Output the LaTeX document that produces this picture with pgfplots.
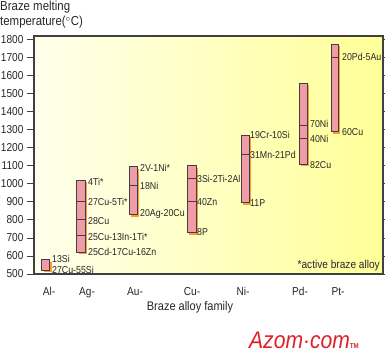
\documentclass[border=0pt]{standalone}
\usepackage{pgfplots}
\pgfplotsset{compat=1.18}
\usepackage{fontspec}
\setmainfont{Liberation Sans}[FakeStretch=0.88]
\definecolor{barpink}{HTML}{F09CA8}
\definecolor{bardark}{HTML}{404040}
\definecolor{shadoworange}{HTML}{FF9A30}
\definecolor{bgl}{HTML}{FFFFEC}
\definecolor{bgr}{HTML}{FFFF98}
\definecolor{azred}{HTML}{E02028}
\newcommand{\brazebar}[4]{%
  \addplot[draw=none, fill=shadoworange, xshift=2pt, yshift=-2pt] coordinates {(#1,#3) (#2,#3) (#2,#4) (#1,#4)} -- cycle;
  \addplot[draw=bardark, fill=barpink, line width=1pt] coordinates {(#1,#3) (#2,#3) (#2,#4) (#1,#4)} -- cycle;
}
\newcommand{\divider}[3]{%
  \addplot[draw=bardark, line width=1pt] coordinates {(#1,#3) (#2,#3)};
}
\newcommand{\lab}[3]{\node[anchor=west, inner sep=0pt, font=\fontsize{10}{11}\selectfont, text=black!85] at (axis cs:#1,#2) {#3};}
\begin{document}
\begin{tikzpicture}
\path[use as bounding box] (-34pt,-86pt) rectangle (351pt,274pt);
\begin{axis}[
  scale only axis,
  width=349pt, height=238pt,
  xmin=34, xmax=383, ymin=500, ymax=1822,
  axis background/.style={left color=bgl, right color=bgr},
  axis line style={draw=black!75, line width=1.2pt},
  xtick={49,87,135,192,243,300,338},
  xticklabels={Al-,Ag-,Au-,Cu-,Ni-,Pd-,Pt-},
  major x tick style={draw=none},
  xticklabel style={font=\fontsize{11.5}{12}\selectfont, text=black!85, yshift=-3pt},
  ytick={500,600,...,1800},
  yticklabel style={font=\fontsize{11.5}{12}\selectfont, text=black!85},
  y tick style={draw=black!75, line width=1pt},
  tick align=outside,
  major tick length=7pt,
  /pgf/number format/assume math mode=true,
  /pgf/number format/1000 sep={},
  clip=false,
]
\brazebar{42}{50}{522}{578}
\brazebar{77}{85}{620}{1020}
\divider{77}{85}{900}\divider{77}{85}{800}\divider{77}{85}{715}
\brazebar{129}{137}{830}{1095}
\divider{129}{137}{990}
\brazebar{187}{196}{730}{1100}
\divider{187}{196}{1030}\divider{187}{196}{900}
\brazebar{241}{249}{895}{1270}
\divider{241}{249}{1165}
\brazebar{299}{307}{1110}{1560}
\divider{299}{307}{1325}\divider{299}{307}{1250}
\brazebar{331}{338}{1290}{1775}
\divider{331}{338}{1705}
\lab{52}{583}{13Si}
\lab{52}{522}{27Cu-55Si}
\lab{88}{1013}{4Ti*}
\lab{88}{902}{27Cu-5Ti*}
\lab{88}{796}{28Cu}
\lab{88}{707}{25Cu-13In-1Ti*}
\lab{88}{621}{25Cd-17Cu-16Zn}
\lab{140}{1091}{2V-1Ni*}
\lab{140}{991}{18Ni}
\lab{140}{833}{20Ag-20Cu}
\lab{197}{1026}{3Si-2Ti-2Al}
\lab{197}{902}{40Zn}
\lab{197}{735}{8P}
\lab{250}{1272}{19Cr-10Si}
\lab{250}{1161}{31Mn-21Pd}
\lab{250}{896}{11P}
\lab{310}{1333}{70Ni}
\lab{310}{1250}{40Ni}
\lab{310}{1106}{82Cu}
\lab{342}{1706}{20Pd-5Au}
\lab{342}{1289}{60Cu}
\end{axis}
\node[anchor=north west, align=left, inner sep=0pt, font=\fontsize{13}{15}\selectfont, text=black!85] at (-34pt,273pt) {Braze melting\\temperature($^{\circ}$C)};
\node[font=\fontsize{12.5}{14}\selectfont, text=black!85] at (156pt,-33pt) {Braze alloy family};
\node[anchor=east, inner sep=0pt, font=\fontsize{11.5}{13}\selectfont, text=black!85] at (346pt,8pt) {*active braze alloy};
\node[font=\fontsize{24}{24}\selectfont\itshape, text=azred] at (270pt,-66pt) {Azom$\cdot$com\raisebox{0pt}{\fontsize{7}{7}\selectfont\upshape\textbf{TM}}};
\end{tikzpicture}
\end{document}
